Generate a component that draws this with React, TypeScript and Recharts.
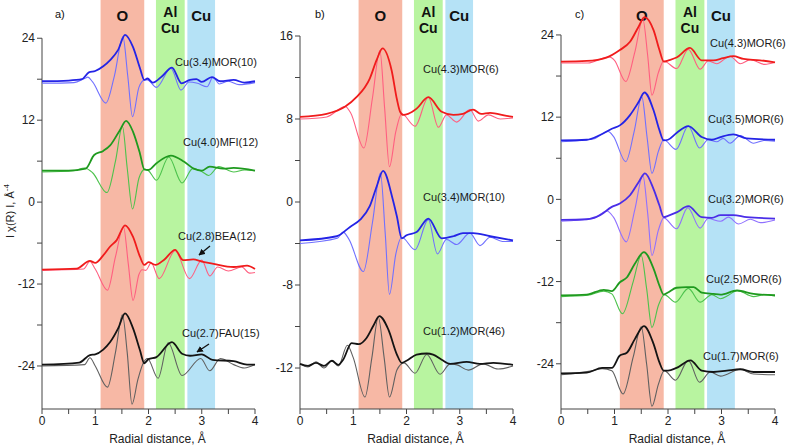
import React from "react";
import { LineChart, Line, XAxis, YAxis, ReferenceArea, ReferenceLine } from "recharts";

type Pt = [number, number];

// radial distance ticks (Å)
const radialTicks = [0, 0.5, 1, 1.5, 2, 2.5, 3, 3.5, 4];

// coordination shells shaded in every panel
const bandNames = [["O"], ["Al", "Cu"], ["Cu"]];
const bandFrom = [1.1, 2.14, 2.73];
const bandTo = [1.92, 2.68, 3.25];
const bandFill = ["#f7b8a5", "#b8f4a0", "#b5e2f6"];

// ---- panel a ----
const aBlueMag: Pt[] = [[0,17.7],[0.5,17.8],[0.75,18.0],[0.88,19.0],[1.0,19.2],[1.15,19.9],[1.28,20.8],[1.43,22.3],[1.56,24.5],[1.71,22.7],[1.84,19.6],[1.92,17.9],[1.98,18.1],[2.08,17.5],[2.25,18.4],[2.44,19.7],[2.62,17.4],[2.78,17.9],[2.9,18.0],[3.0,17.6],[3.19,18.3],[3.35,17.7],[3.6,17.9],[3.8,17.5],[4.0,17.7]];
const aBlueIm: Pt[] = [[0,17.4],[0.6,17.5],[0.8,18.1],[0.86,18.3],[0.95,17.6],[1.2,14.5],[1.36,18.5],[1.52,24.2],[1.61,18.5],[1.7,12.5],[1.82,16.8],[1.93,17.9],[1.98,17.9],[2.15,16.8],[2.42,19.6],[2.61,16.4],[2.76,17.6],[2.92,17.4],[3.1,16.9],[3.21,18.3],[3.33,17.3],[3.5,17.7],[3.7,17.2],[4.0,17.5]];
const aGreenMag: Pt[] = [[0,4.6],[0.5,4.6],[0.82,4.9],[0.98,6.9],[1.15,7.5],[1.28,8.3],[1.46,10.5],[1.58,11.9],[1.71,10.3],[1.84,7.1],[1.92,4.8],[2.0,4.7],[2.15,5.7],[2.42,6.8],[2.67,5.9],[2.85,4.9],[3.0,4.6],[3.15,5.2],[3.4,4.9],[3.6,5.0],[4.0,4.6]];
const aGreenIm: Pt[] = [[0,4.4],[0.6,4.6],[0.8,5.0],[0.95,4.3],[1.22,1.4],[1.38,6],[1.51,11.1],[1.6,5],[1.7,-1.0],[1.82,3.5],[1.93,4.8],[2.0,4.6],[2.15,3.2],[2.38,6.6],[2.63,2.8],[2.83,4.9],[3.0,4.5],[3.13,3.9],[3.32,5.2],[3.6,4.4],[3.8,4.7],[4.0,4.6]];
const aRedMag: Pt[] = [[0,-9.9],[0.65,-9.75],[0.9,-8.6],[1.0,-8.9],[1.15,-7.8],[1.28,-6.5],[1.4,-5.6],[1.56,-3.4],[1.71,-5.1],[1.84,-8.0],[1.92,-9.2],[2.0,-8.8],[2.13,-9.2],[2.3,-8.4],[2.5,-7.0],[2.65,-8.5],[2.84,-8.4],[3.0,-8.7],[3.2,-9.0],[3.6,-9.5],[3.85,-9.3],[4.0,-9.8]];
const aRedIm: Pt[] = [[0,-10.0],[0.78,-9.8],[0.9,-8.7],[1.0,-9.8],[1.23,-12.9],[1.38,-8],[1.53,-3.6],[1.62,-9],[1.71,-14.4],[1.82,-10.6],[1.88,-9.9],[1.95,-10.0],[2.05,-8.9],[2.2,-11.2],[2.5,-7.1],[2.77,-11.2],[3.0,-8.5],[3.15,-10.8],[3.3,-9.5],[3.5,-10.1],[3.75,-9.5],[3.9,-10.4],[4.0,-10.3]];
const aBlackMag: Pt[] = [[0,-23.8],[0.7,-23.5],[0.9,-22.4],[1.0,-22.3],[1.15,-21.6],[1.28,-20.5],[1.43,-18.5],[1.56,-16.3],[1.71,-18.5],[1.84,-21.7],[1.92,-23.6],[2.0,-23.0],[2.15,-22.7],[2.44,-20.5],[2.63,-22.2],[2.78,-22.5],[3.0,-22.3],[3.2,-23.1],[3.6,-23.3],[3.85,-23.8],[4.0,-23.8]];
const aBlackIm: Pt[] = [[0,-24.0],[0.8,-23.8],[0.9,-22.8],[1.0,-24.0],[1.23,-27.1],[1.38,-22],[1.51,-16.5],[1.6,-22],[1.69,-29.6],[1.8,-26],[1.9,-23.6],[1.98,-22.9],[2.18,-25.8],[2.37,-20.6],[2.63,-25.4],[2.98,-22.9],[3.15,-24.7],[3.35,-22.9],[3.6,-23.8],[3.8,-24.3],[4.0,-23.8]];

// ---- panel b ----
const bRedMag: Pt[] = [[0,8.2],[0.5,8.5],[0.85,9.2],[1.06,10.1],[1.31,11.9],[1.44,13.7],[1.55,14.8],[1.72,12.7],[1.82,9.9],[1.88,8.7],[1.94,8.4],[2.03,8.5],[2.19,9.0],[2.41,10.1],[2.66,8.7],[2.88,8.4],[3.06,8.5],[3.25,8.9],[3.4,8.5],[3.57,8.6],[3.88,8.3],[4.0,8.2]];
const bRedIm: Pt[] = [[0,8.0],[0.5,8.2],[0.85,9.2],[0.95,8.6],[1.2,5.2],[1.36,10],[1.5,14.6],[1.59,9],[1.68,3.4],[1.8,6.8],[1.91,8.5],[2.16,7.3],[2.41,10.1],[2.6,7.2],[2.75,8.4],[2.94,7.7],[3.19,8.9],[3.35,7.8],[3.54,8.4],[3.76,8.0],[4.0,8.1]];
const bBlueMag: Pt[] = [[0,-3.7],[0.69,-3.3],[0.94,-2.4],[1.13,-1.7],[1.31,-0.4],[1.44,1.5],[1.56,3.0],[1.74,0.3],[1.82,-1.4],[1.91,-3.5],[2.0,-3.2],[2.19,-2.9],[2.41,-1.6],[2.66,-3.5],[2.88,-3.3],[3.06,-3.0],[3.25,-3.0],[3.57,-3.3],[4.0,-3.7]];
const bBlueIm: Pt[] = [[0,-4.0],[0.7,-3.5],[0.81,-2.9],[0.92,-3.6],[1.19,-6.7],[1.36,-2],[1.51,2.8],[1.6,-3],[1.68,-8.9],[1.8,-5],[1.91,-3.4],[2.16,-4.6],[2.41,-1.7],[2.58,-5.0],[2.75,-3.6],[2.94,-4.1],[3.19,-3.0],[3.38,-4.2],[3.57,-3.4],[3.8,-3.8],[4.0,-3.8]];
const bBlackMag: Pt[] = [[0,-15.6],[0.15,-15.8],[0.3,-15.5],[0.45,-15.8],[0.6,-15.3],[0.72,-15.7],[0.81,-15.2],[0.97,-13.6],[1.1,-13.7],[1.25,-13.1],[1.38,-11.9],[1.49,-11.0],[1.66,-12.3],[1.82,-14.7],[1.91,-15.5],[2.0,-15.3],[2.19,-14.7],[2.38,-14.6],[2.5,-14.7],[2.66,-15.2],[2.82,-15.6],[3.13,-15.4],[3.38,-15.6],[3.63,-15.5],[4.0,-15.7]];
const bBlackIm: Pt[] = [[0,-15.6],[0.15,-15.9],[0.3,-15.4],[0.45,-16.0],[0.6,-15.3],[0.72,-15.8],[0.89,-13.8],[1.0,-15],[1.22,-18.8],[1.35,-15],[1.47,-11.1],[1.58,-15],[1.68,-18.8],[1.82,-16.2],[1.95,-15.5],[2.16,-16.5],[2.38,-14.7],[2.63,-16.6],[2.82,-15.6],[2.95,-15.7],[3.16,-16.2],[3.44,-15.6],[3.72,-16.1],[4.0,-15.8]];

// ---- panel c ----
const cRedMag: Pt[] = [[0,20.1],[0.48,20.2],[0.85,20.7],[1.1,21.8],[1.29,23.0],[1.45,25.2],[1.56,26.6],[1.73,24.7],[1.84,21.8],[1.92,20.1],[2.01,20.3],[2.16,20.7],[2.41,22.1],[2.63,20.3],[2.85,20.3],[3.03,20.6],[3.22,20.9],[3.41,20.5],[3.72,20.3],[4.0,20.0]];
const cRedIm: Pt[] = [[0,19.9],[0.5,19.9],[0.9,20.8],[1.0,20.3],[1.21,17.2],[1.38,21.5],[1.53,26.3],[1.62,21],[1.7,15.2],[1.82,18.5],[1.92,20.2],[2.16,19.1],[2.38,21.9],[2.6,19.0],[2.75,20.2],[2.91,19.8],[3.16,20.9],[3.35,19.8],[3.54,20.4],[3.81,19.7],[4.0,20.0]];
const cBlueMag: Pt[] = [[0,8.6],[0.48,8.7],[0.73,9.4],[0.95,10.3],[1.1,10.8],[1.29,12.3],[1.45,14.2],[1.56,15.6],[1.73,13.0],[1.84,10.1],[1.92,8.6],[2.0,8.7],[2.16,9.7],[2.38,10.7],[2.63,9.1],[2.82,8.7],[2.98,9.1],[3.22,9.5],[3.47,8.9],[4.0,8.7]];
const cBlueIm: Pt[] = [[0,8.4],[0.6,8.8],[0.88,9.9],[0.98,9.2],[1.21,5.5],[1.37,10],[1.51,15.0],[1.61,9],[1.7,3.8],[1.82,7],[1.92,8.7],[2.15,7.3],[2.38,10.7],[2.59,7.5],[2.75,8.7],[2.91,8.4],[3.03,8.9],[3.16,8.2],[3.35,9.3],[3.6,8.2],[3.8,8.6],[4.0,8.5]];
const cVioMag: Pt[] = [[0,-3.0],[0.48,-2.9],[0.73,-2.3],[0.95,-1.1],[1.1,-0.6],[1.29,0.6],[1.45,2.5],[1.57,3.8],[1.73,1.5],[1.84,-0.9],[1.92,-2.6],[2.0,-2.4],[2.16,-1.9],[2.38,-1.0],[2.63,-2.6],[2.82,-2.7],[2.98,-2.3],[3.22,-2.3],[3.47,-2.6],[4.0,-2.8]];
const cVioIm: Pt[] = [[0,-3.2],[0.6,-2.8],[0.86,-1.7],[0.98,-2.6],[1.22,-6.2],[1.38,-1.5],[1.53,3.5],[1.62,-2],[1.7,-8.2],[1.82,-4.5],[1.92,-2.7],[2.16,-4.3],[2.37,-1.2],[2.6,-4.2],[2.75,-2.8],[2.98,-3.2],[3.13,-2.6],[3.32,-3.6],[3.54,-2.9],[3.73,-3.4],[4.0,-3.0]];
const cGreenMag: Pt[] = [[0,-14.0],[0.48,-13.9],[0.8,-13.2],[0.95,-13.4],[1.1,-12.1],[1.23,-11.4],[1.38,-9.4],[1.55,-7.7],[1.73,-10.1],[1.84,-12.6],[1.92,-13.9],[2.0,-13.6],[2.16,-12.9],[2.35,-12.8],[2.48,-12.8],[2.63,-13.6],[2.85,-13.8],[2.98,-13.9],[3.29,-13.3],[3.6,-13.8],[4.0,-14.0]];
const cGreenIm: Pt[] = [[0,-14.2],[0.5,-14.0],[0.8,-13.4],[0.95,-13.8],[1.15,-16.7],[1.35,-12],[1.5,-8.2],[1.6,-13],[1.7,-18.7],[1.82,-15.5],[1.93,-13.9],[2.14,-15.0],[2.38,-13.0],[2.6,-15.0],[2.82,-13.9],[2.98,-14.5],[3.13,-14.0],[3.29,-13.3],[3.6,-14.2],[3.8,-13.9],[4.0,-14.1]];
const cBlackMag: Pt[] = [[0,-25.4],[0.48,-25.3],[0.77,-24.6],[0.95,-24.6],[1.1,-22.8],[1.23,-22.4],[1.38,-20.4],[1.55,-18.5],[1.73,-21.1],[1.84,-23.8],[1.92,-25.0],[2.0,-25.0],[2.16,-24.6],[2.42,-23.5],[2.63,-25.0],[2.85,-25.2],[3.1,-25.0],[3.35,-24.8],[3.6,-25.2],[4.0,-25.2]];
const cBlackIm: Pt[] = [[0,-25.6],[0.6,-25.0],[0.77,-24.7],[0.95,-25.0],[1.16,-28.4],[1.35,-23],[1.5,-18.6],[1.6,-24],[1.7,-30.2],[1.82,-27],[1.93,-25.0],[2.14,-26.4],[2.38,-23.5],[2.59,-26.7],[2.79,-25.2],[2.98,-25.8],[3.35,-24.8],[3.6,-25.5],[4.0,-25.6]];

// y ticks (minor every half step, labels on majors as printed)
const aTicks = [-24, -18, -12, -6, 0, 6, 12, 18, 24];
const aTickVals = [24, 12, 0, -12, -24];
const aTickText = ["24", "12", "0", "-12", "-24"];
const bTicks = [-16, -12, -8, -4, 0, 4, 8, 12, 16];
const bTickVals = [16, 8, 0, -8, -16];
const bTickText = ["16", "8", "0", "-8", "-12"];
const cTicks = aTicks;
const cTickVals = aTickVals;
const cTickText = aTickText;

const FONT = "'Liberation Sans', Arial, sans-serif";

const C = {
  blue: ["#2424e6", "#7070ff"],
  green: ["#1f9a1f", "#4cc24c"],
  red: ["#f01c1c", "#ff5f80"],
  black: ["#141414", "#606060"],
  violet: ["#4a2ee8", "#8f70ff"],
};

type Series = { mag: Pt[]; im: Pt[]; col: string[] };

const rows = (pts: Pt[]) => pts.map(([r, v]) => ({ r, v }));

const renderBand = (lines: string[]) => (props: any) => {
  const vb = props.viewBox;
  const cx = vb.x + vb.width / 2;
  if (lines.length === 1) {
    return (
      <text x={cx} y={21} textAnchor="middle" fontFamily={FONT} fontWeight="bold" fontSize={15} fill="#111">
        {lines[0]}
      </text>
    );
  }
  return (
    <g>
      {lines.map((l, i) => (
        <text key={i} x={cx} y={17 + i * 16} textAnchor="middle" fontFamily={FONT} fontWeight="bold" fontSize={14} fill="#111">
          {l}
        </text>
      ))}
    </g>
  );
};

function Panel(p: {
  left: number; width: number; yWidth: number; domain: number[];
  ticks: number[]; tickVals: number[]; tickText: string[]; series: Series[];
}) {
  const fmt = (v: number) => {
    const i = p.tickVals.indexOf(v);
    return i >= 0 ? p.tickText[i] : "";
  };
  const top = p.tickVals[0];
  return (
    <div style={{ position: "absolute", left: p.left, top: 0 }}>
      <LineChart width={p.width} height={446} margin={{ top: 0, right: 7, bottom: 0, left: 0 }}>
        <XAxis
          dataKey="r" type="number" domain={[0, 4]} ticks={radialTicks}
          tickFormatter={(v: number) => (Number.isInteger(v) ? String(v) : "")}
          tick={{ fill: "#222", fontSize: 12, fontFamily: FONT }}
          axisLine={{ stroke: "#444" }} tickLine={{ stroke: "#444" }} tickSize={5} height={37}
          label={{ value: "Radial distance, Å", position: "insideBottom", offset: 3, dx: 9, fill: "#222", fontSize: 12, fontFamily: FONT }}
        />
        <YAxis
          type="number" domain={p.domain} ticks={p.ticks} allowDataOverflow
          tickFormatter={fmt} width={p.yWidth} axisLine={false}
          tick={{ fill: "#222", fontSize: 12, fontFamily: FONT }}
          tickLine={{ stroke: "#444" }} tickSize={5}
        />
        {bandFrom.map((f, i) => (
          <ReferenceArea key={i} x1={f} x2={bandTo[i]} fill={bandFill[i]} fillOpacity={1} stroke="none"
            label={renderBand(bandNames[i])} />
        ))}
        <ReferenceLine segment={[{ x: 0, y: p.domain[0] }, { x: 0, y: top }]} stroke="#444" />
        {p.series.map((s, i) => (
          <Line key={"im" + i} data={rows(s.im)} dataKey="v" type="monotone" stroke={s.col[1]}
            strokeWidth={1.1} dot={false} isAnimationActive={false} />
        ))}
        {p.series.map((s, i) => (
          <Line key={"mag" + i} data={rows(s.mag)} dataKey="v" type="monotone" stroke={s.col[0]}
            strokeWidth={1.8} dot={false} isAnimationActive={false} />
        ))}
      </LineChart>
    </div>
  );
}

const curveLabels: [string, number, number][] = [
  ["Cu(3.4)MOR(10)", 175, 66], ["Cu(4.0)MFI(12)", 183, 146], ["Cu(2.8)BEA(12)", 178, 240], ["Cu(2.7)FAU(15)", 182, 337],
  ["Cu(4.3)MOR(6)", 423, 73], ["Cu(3.4)MOR(10)", 423, 201], ["Cu(1.2)MOR(46)", 423, 335],
  ["Cu(4.3)MOR(6)", 710, 47], ["Cu(3.5)MOR(6)", 708, 123], ["Cu(3.2)MOR(6)", 708, 203], ["Cu(2.5)MOR(6)", 706, 283], ["Cu(1.7)MOR(6)", 703, 360],
];

export default function App() {
  return (
    <div style={{ position: "absolute", left: 0, top: 0, width: 787, height: 446, background: "#fff", fontFamily: FONT }}>
      <Panel left={0} width={262} yWidth={42} domain={[-30.3, 29.6]} ticks={aTicks} tickVals={aTickVals} tickText={aTickText}
        series={[
          { mag: aBlueMag, im: aBlueIm, col: C.blue },
          { mag: aGreenMag, im: aGreenIm, col: C.green },
          { mag: aRedMag, im: aRedIm, col: C.red },
          { mag: aBlackMag, im: aBlackIm, col: C.black },
        ]} />
      <Panel left={262} width={258} yWidth={38} domain={[-19.95, 19.47]} ticks={bTicks} tickVals={bTickVals} tickText={bTickText}
        series={[
          { mag: bRedMag, im: bRedIm, col: C.red },
          { mag: bBlueMag, im: bBlueIm, col: C.blue },
          { mag: bBlackMag, im: bBlackIm, col: C.black },
        ]} />
      <Panel left={520} width={262} yWidth={41} domain={[-30.6, 29.1]} ticks={cTicks} tickVals={cTickVals} tickText={cTickText}
        series={[
          { mag: cRedMag, im: cRedIm, col: C.red },
          { mag: cBlueMag, im: cBlueIm, col: C.blue },
          { mag: cVioMag, im: cVioIm, col: C.violet },
          { mag: cGreenMag, im: cGreenIm, col: C.green },
          { mag: cBlackMag, im: cBlackIm, col: C.black },
        ]} />
      <svg width={787} height={446} style={{ position: "absolute", left: 0, top: 0, pointerEvents: "none" }}>
        <defs>
          <marker id="ah" viewBox="0 0 10 10" refX="9" refY="5" markerWidth="5" markerHeight="5" orient="auto">
            <path d="M0,0 L10,5 L0,10 z" fill="#111" />
          </marker>
        </defs>
        <g fontFamily={FONT} fontSize={11} fill="#111">
          <text x={55} y={18}>a)</text>
          <text x={315} y={18}>b)</text>
          <text x={575} y={18}>c)</text>
          {curveLabels.map(([t, x, y], i) => (
            <text key={i} x={x} y={y} fill="#1a1a1a">{t}</text>
          ))}
        </g>
        <line x1={210} y1={246} x2={199} y2={255} stroke="#111" strokeWidth={1.3} markerEnd="url(#ah)" />
        <line x1={209} y1={344} x2={197} y2={352} stroke="#111" strokeWidth={1.3} markerEnd="url(#ah)" />
        <text transform="translate(14,238) rotate(-90)" fontFamily={FONT} fontSize={11} fill="#222">
          I χ(R) I, Å<tspan fontSize={8} dy={-5}>-4</tspan>
        </text>
      </svg>
    </div>
  );
}
